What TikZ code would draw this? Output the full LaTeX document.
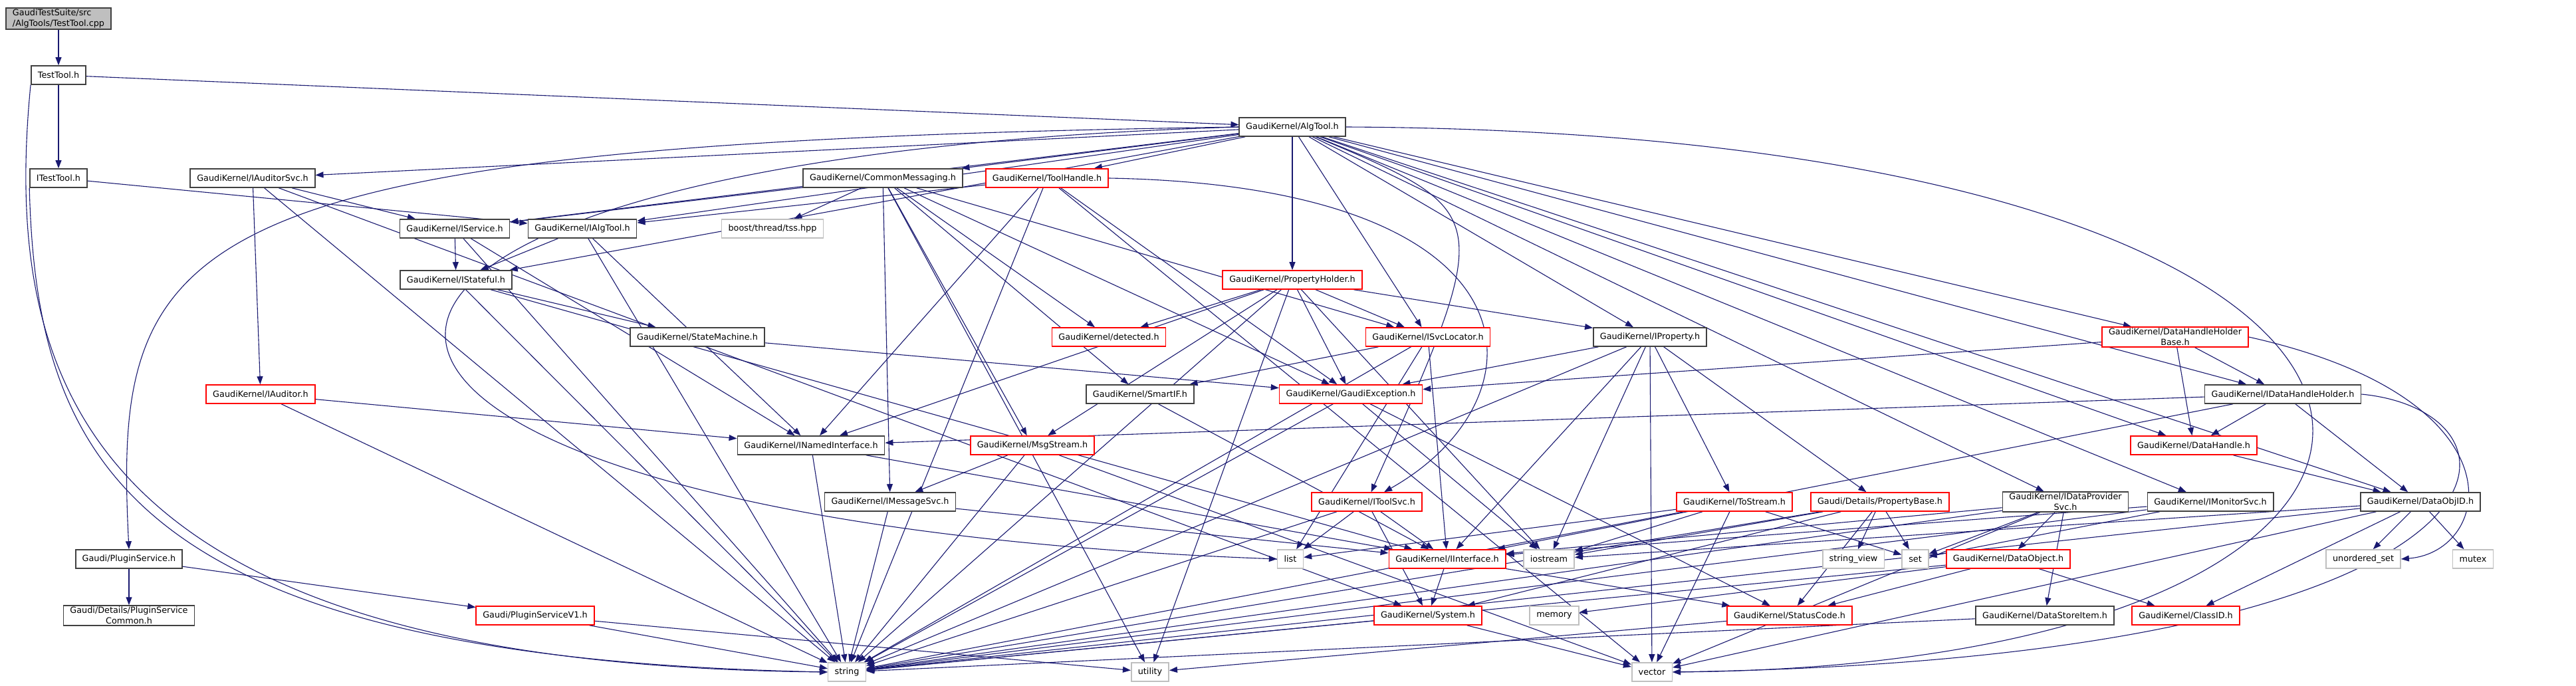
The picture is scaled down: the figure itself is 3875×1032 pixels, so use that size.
\documentclass[tikz,border=0pt]{standalone}
\usepackage{fontspec}
\setmainfont{DejaVu Sans}
\usetikzlibrary{arrows.meta}
\definecolor{edgeblue}{HTML}{191970}
\definecolor{boxred}{HTML}{FF0000}
\definecolor{boxgray}{HTML}{404040}
\definecolor{sysgray}{HTML}{BFBFBF}
\pgfdeclarelayer{edges}
\pgfsetlayers{edges,main}

\begin{document}
\begin{tikzpicture}[x=1pt,y=-1pt,
  hdr/.style={draw=boxgray, line width=1.6pt, fill=white, inner xsep=10pt, inner ysep=2pt,
    minimum height=28pt, font=\fontsize{12.8pt}{16pt}\selectfont},
  trunc/.style={hdr, draw=boxred},
  sys/.style={hdr, draw=sysgray},
  root/.style={hdr, fill=sysgray, align=left},
  two/.style={align=center},
  dep/.style={edgeblue, line width=1.1pt, -{Triangle[length=12pt,width=9pt]}}]
\useasboundingbox (0,0) rectangle (3875,1032);

%headers, row by row
\node[root] (cpp) at (88,28) {GaudiTestSuite/src\\/AlgTools/TestTool.cpp};
\node[hdr] (testtoolh) at (88,113) {TestTool.h};
\node[hdr] (algtool) at (1944,191) {GaudiKernel/AlgTool.h};
\node[hdr] (itesttool) at (88,268) {ITestTool.h};
\node[hdr] (iauditorsvc) at (380,268) {GaudiKernel/IAuditorSvc.h};
\node[hdr] (commonmsg) at (1328,268) {GaudiKernel/CommonMessaging.h};
\node[trunc] (toolhandle) at (1575,268) {GaudiKernel/ToolHandle.h};
\node[hdr] (iservice) at (684,344) {GaudiKernel/IService.h};
\node[hdr] (ialgtool) at (876,344) {GaudiKernel/IAlgTool.h};
\node[sys] (boosttss) at (1162,344) {boost/thread/tss.hpp};
\node[hdr] (istateful) at (686,421) {GaudiKernel/IStateful.h};
\node[trunc] (propholder) at (1944,421) {GaudiKernel/PropertyHolder.h};
\node[hdr] (statemachine) at (1049,507) {GaudiKernel/StateMachine.h};
\node[trunc] (detected) at (1668,507) {GaudiKernel/detected.h};
\node[trunc] (isvcloc) at (2148,507) {GaudiKernel/ISvcLocator.h};
\node[hdr] (iproperty) at (2482,507) {GaudiKernel/IProperty.h};
\node[trunc, two] (dhhbase) at (3272,507) {GaudiKernel/DataHandleHolder\\Base.h};
\node[trunc] (iauditor) at (392,593) {GaudiKernel/IAuditor.h};
\node[hdr] (smartif) at (1715,593) {GaudiKernel/SmartIF.h};
\node[trunc] (gaudiexc) at (2032,593) {GaudiKernel/GaudiException.h};
\node[hdr] (idhh) at (3434,593) {GaudiKernel/IDataHandleHolder.h};
\node[hdr] (namedif) at (1220,670) {GaudiKernel/INamedInterface.h};
\node[trunc] (msgstream) at (1553,670) {GaudiKernel/MsgStream.h};
\node[trunc] (datahandle) at (3300,670) {GaudiKernel/DataHandle.h};
\node[hdr] (imsgsvc) at (1339,755) {GaudiKernel/IMessageSvc.h};
\node[trunc] (itoolsvc) at (2056,755) {GaudiKernel/IToolSvc.h};
\node[trunc] (tostream) at (2609,755) {GaudiKernel/ToStream.h};
\node[trunc] (propbase) at (2828,755) {Gaudi/Details/PropertyBase.h};
\node[hdr, two] (idps) at (3107,755) {GaudiKernel/IDataProvider\\Svc.h};
\node[hdr] (imonsvc) at (3325,755) {GaudiKernel/IMonitorSvc.h};
\node[hdr] (dataobjid) at (3641,755) {GaudiKernel/DataObjID.h};
\node[hdr] (pluginsvc) at (194,841) {Gaudi/PluginService.h};
\node[sys] (list) at (1941,841) {list};
\node[trunc] (iinterface) at (2177,841) {GaudiKernel/IInterface.h};
\node[sys] (iostream) at (2330,841) {iostream};
\node[sys] (stringview) at (2788,841) {string\_view};
\node[sys] (set) at (2881,841) {set};
\node[trunc] (dataobject) at (3021,841) {GaudiKernel/DataObject.h};
\node[sys] (unordset) at (3555,841) {unordered\_set};
\node[sys] (mutex) at (3720,841) {mutex};
\node[hdr, two] (plugincommon) at (194,926) {Gaudi/Details/PluginService\\Common.h};
\node[trunc] (pluginv1) at (805,926) {Gaudi/PluginServiceV1.h};
\node[trunc] (system) at (2148,926) {GaudiKernel/System.h};
\node[sys] (memory) at (2338,926) {memory};
\node[trunc] (statuscode) at (2692,926) {GaudiKernel/StatusCode.h};
\node[hdr] (datastoreitem) at (3076,926) {GaudiKernel/DataStoreItem.h};
\node[trunc] (classid) at (3288,926) {GaudiKernel/ClassID.h};
\node[sys] (string) at (1274,1011) {string};
\node[sys] (utility) at (1730,1011) {utility};
\node[sys] (vector) at (2485,1011) {vector};

\begin{pgfonlayer}{edges}
%test tool
\draw[dep] (cpp) -- (testtoolh);
\draw[dep] (testtoolh) -- (itesttool);
\draw[dep] (testtoolh) -- (algtool);
\draw[dep] (testtoolh.south west) .. controls (0,600) and (150,1000) .. (string.west);
\draw[dep] (itesttool) -- (ialgtool);
\draw[dep] (itesttool.south west) .. controls (55,700) and (200,990) .. (string.west);

%AlgTool.h
\draw[dep] (algtool) -- (iauditorsvc);
\draw[dep] (algtool) -- (commonmsg);
\draw[dep] (algtool) -- (toolhandle);
\draw[dep] (algtool) -- (iservice);
\draw[dep] (algtool) -- (ialgtool);
\draw[dep] (algtool) -- (istateful);
\draw[dep] (algtool) -- (propholder);
\draw[dep] (algtool) -- (isvcloc);
\draw[dep] (algtool) -- (iproperty);
\draw[dep] (algtool) .. controls (2250,320) .. (itoolsvc);
\draw[dep] (algtool.west) .. controls (250,215) and (170,350) .. (pluginsvc.north);
\draw[dep] (algtool.west) .. controls (230,240) and (300,780) .. (list.west);
\draw[dep] (algtool.east) .. controls (3870,200) and (3870,1000) .. (vector.east);
\draw[dep] (algtool) -- (idps);
\draw[dep] (algtool) -- (imonsvc);
\draw[dep] (algtool) -- (dhhbase);
\draw[dep] (algtool) -- (idhh);
\draw[dep] (algtool) -- (datahandle);
\draw[dep] (algtool) -- (dataobjid);

%auditors
\draw[dep] (iauditorsvc) -- (iservice);
\draw[dep] (iauditorsvc) -- (iauditor);
\draw[dep] (iauditorsvc) -- (system);
\draw[dep] (iauditorsvc) -- (string);
\draw[dep] (iauditor) -- (namedif);
\draw[dep] (iauditor) -- (string);

%messaging
\draw[dep] (commonmsg) -- (iservice);
\draw[dep] (commonmsg) -- (boosttss);
\draw[dep] (commonmsg) -- (detected);
\draw[dep] (commonmsg) -- (gaudiexc);
\draw[dep] (commonmsg) -- (isvcloc);
\draw[dep] (commonmsg) -- (msgstream);
\draw[dep] (commonmsg) -- (smartif);
\draw[dep] (commonmsg) -- (imsgsvc);
\draw[dep] (commonmsg) -- (utility);
\draw[dep] (msgstream) -- (imsgsvc);
\draw[dep] (msgstream) -- (string);
\draw[dep] (msgstream) -- (vector);
\draw[dep] (imsgsvc) -- (iinterface);
\draw[dep] (imsgsvc) -- (string);

%tool handle
\draw[dep] (toolhandle) -- (ialgtool);
\draw[dep] (toolhandle) -- (namedif);
\draw[dep] (toolhandle.east) .. controls (2330,280) and (2330,600) .. (itoolsvc);
\draw[dep] (toolhandle) -- (gaudiexc);
\draw[dep] (toolhandle) -- (string);
\draw[dep] (toolhandle) -- (vector);

%service interfaces
\draw[dep] (iservice) -- (istateful);
\draw[dep] (iservice) -- (namedif);
\draw[dep] (iservice) -- (string);
\draw[dep] (ialgtool) -- (istateful);
\draw[dep] (ialgtool) -- (namedif);
\draw[dep] (ialgtool) -- (string);
\draw[dep] (istateful) -- (statemachine);
\draw[dep] (istateful) -- (iinterface);
\draw[dep] (istateful) -- (string);
\draw[dep] (statemachine) -- (gaudiexc);
\draw[dep] (namedif) -- (iinterface);
\draw[dep] (namedif) -- (string);

%properties
\draw[dep] (propholder) -- (detected);
\draw[dep] (propholder) -- (isvcloc);
\draw[dep] (propholder) -- (iproperty);
\draw[dep] (propholder) -- (gaudiexc);
\draw[dep] (propholder) -- (msgstream);
\draw[dep] (propholder) -- (namedif);
\draw[dep] (propholder) -- (string);
\draw[dep] (propholder) -- (utility);
\draw[dep] (propholder) -- (iostream);
\draw[dep] (iproperty) -- (gaudiexc);
\draw[dep] (iproperty) -- (tostream);
\draw[dep] (iproperty) -- (propbase);
\draw[dep] (iproperty) -- (iinterface);
\draw[dep] (iproperty) -- (iostream);
\draw[dep] (iproperty) -- (string);
\draw[dep] (iproperty) -- (vector);
\draw[dep] (tostream) -- (iostream);
\draw[dep] (tostream) -- (list);
\draw[dep] (tostream) -- (set);
\draw[dep] (tostream) -- (string);
\draw[dep] (tostream) -- (vector);
\draw[dep] (propbase) -- (stringview);
\draw[dep] (propbase) -- (set);
\draw[dep] (propbase) -- (statuscode);
\draw[dep] (propbase) -- (system);
\draw[dep] (propbase) -- (iostream);
\draw[dep] (propbase) -- (string);

%locator, tools, interface
\draw[dep] (isvcloc) -- (iinterface);
\draw[dep] (isvcloc) -- (smartif);
\draw[dep] (isvcloc) -- (list);
\draw[dep] (isvcloc) -- (string);
\draw[dep] (smartif) -- (iinterface);
\draw[dep] (gaudiexc) -- (iostream);
\draw[dep] (gaudiexc) -- (statuscode);
\draw[dep] (gaudiexc) -- (string);
\draw[dep] (itoolsvc) -- (iinterface);
\draw[dep] (itoolsvc) -- (list);
\draw[dep] (itoolsvc) -- (system);
\draw[dep] (itoolsvc) -- (string);
\draw[dep] (iinterface) -- (system);
\draw[dep] (iinterface) -- (statuscode);
\draw[dep] (system) -- (string);
\draw[dep] (system) -- (vector);
\draw[dep] (statuscode) -- (utility);

%data handles
\draw[dep] (dhhbase) -- (idhh);
\draw[dep] (dhhbase) -- (datahandle);
\draw[dep] (dhhbase) -- (gaudiexc);
\draw[dep] (dhhbase.east) .. controls (3800,600) and (3750,830) .. (unordset.east);
\draw[dep] (idhh) -- (namedif);
\draw[dep] (idhh) -- (datahandle);
\draw[dep] (idhh) -- (dataobjid);
\draw[dep] (idhh) -- (iinterface);
\draw[dep] (idhh.east) .. controls (3830,620) and (3830,990) .. (vector.east);
\draw[dep] (datahandle) -- (dataobjid);
\draw[dep] (dataobjid) -- (classid);
\draw[dep] (dataobjid) -- (unordset);
\draw[dep] (dataobjid) -- (mutex);
\draw[dep] (dataobjid) -- (iostream);
\draw[dep] (dataobjid) -- (string);
\draw[dep] (dataobjid) -- (vector);

%data services
\draw[dep] (idps) -- (dataobject);
\draw[dep] (idps) -- (datastoreitem);
\draw[dep] (idps) -- (iinterface);
\draw[dep] (idps) -- (set);
\draw[dep] (idps) -- (string);
\draw[dep] (idps) -- (vector);
\draw[dep] (imonsvc) -- (iinterface);
\draw[dep] (imonsvc) -- (set);
\draw[dep] (imonsvc) -- (string);
\draw[dep] (dataobject) -- (statuscode);
\draw[dep] (dataobject) -- (classid);
\draw[dep] (dataobject) -- (memory);
\draw[dep] (dataobject) -- (string);
\draw[dep] (datastoreitem) -- (string);

%plugins
\draw[dep] (pluginsvc) -- (plugincommon);
\draw[dep] (pluginsvc) -- (pluginv1);
\draw[dep] (pluginv1) -- (string);
\draw[dep] (pluginv1) -- (utility);
\end{pgfonlayer}
\end{tikzpicture}
\end{document}
